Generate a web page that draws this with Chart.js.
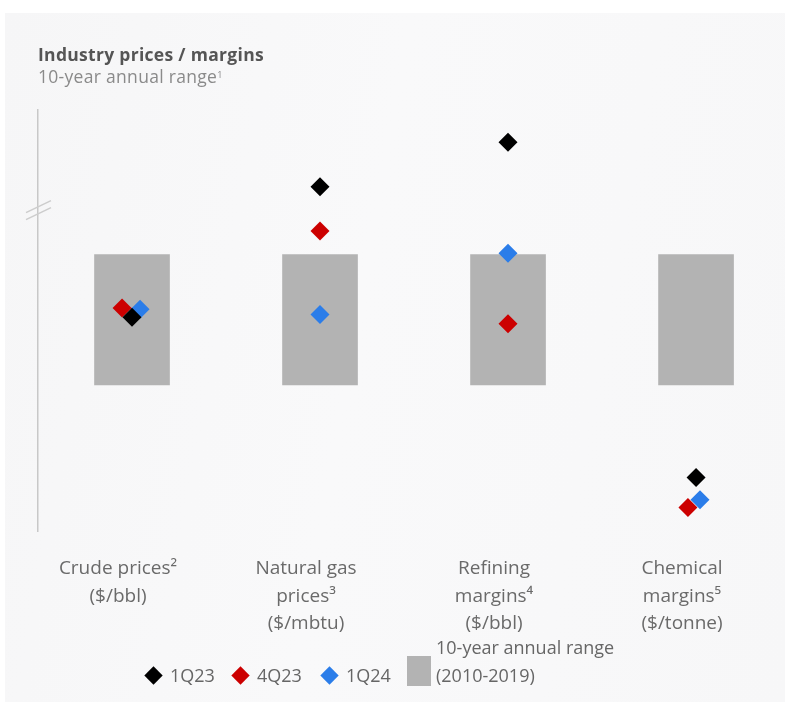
<!DOCTYPE html>
<html>
<head>
<meta charset="utf-8">
<script src="https://cdn.jsdelivr.net/npm/chart.js@4.4.1/dist/chart.umd.min.js"></script>
<style>
  html, body { margin: 0; padding: 0; background: #ffffff; }
  #wrap { position: relative; width: 785px; height: 702px; overflow: hidden; }
  #panel { position: absolute; left: 5px; top: 13px; right: 0; bottom: 0;
           background: linear-gradient(100deg, #f6f6f7 0%, #f9f9fa 45%, #f7f7f8 100%); }
  canvas { position: absolute; left: 0; top: 0; }
  .txt { position: absolute; font-family: "Open Sans", sans-serif; white-space: nowrap; }
  #title { left: 38px; top: 43px; font-size: 17.5px; font-weight: 700; color: #555; line-height: 22px; letter-spacing: 0.3px; }
  #subtitle { left: 38px; top: 65px; font-size: 17.5px; color: #8a8a8a; line-height: 22px; letter-spacing: 0.3px; }
  #subtitle sup { font-size: 9px; vertical-align: top; position: relative; top: -1px; }
  #legend { position: absolute; left: 0; top: 633px; width: 785px; height: 60px;
            font-family: "Open Sans", sans-serif; font-size: 18px; color: #666; }
  .item { position: absolute; top: 0; display: flex; align-items: flex-end; height: 56px; }
  .dia { width: 19px; height: 28px; display: flex; align-items: center; justify-content: center; margin-right: 7px; }
  .dia span { width: 13px; height: 13px; transform: rotate(45deg); display: block; }
  .lbl { line-height: 28px; }
  .box { width: 24px; height: 30px; background: #b3b3b3; margin-right: 5px; margin-bottom: 3px; }
  .two { line-height: 28px; }
</style>
</head>
<body>
<div id="wrap">
  <div id="panel"></div>
  <canvas id="chart" width="785" height="702"></canvas>
  <div id="title" class="txt">Industry prices / margins</div>
  <div id="subtitle" class="txt">10-year annual range<sup>1</sup></div>
  <div id="legend"></div>
</div>
<script>
// Categories shown along the bottom (multi-line labels)
const categories = [
  ['Crude prices²', '($/bbl)'],
  ['Natural gas', 'prices³', '($/mbtu)'],
  ['Refining', 'margins⁴', '($/bbl)'],
  ['Chemical', 'margins⁵', '($/tonne)']
];

// Values are placed relative to each market's 10-year annual range:
// 0 = low end of the range, 100 = high end of the range
const rangeLow  = [0, 0, 0, 0];
const rangeHigh = [100, 100, 100, 100];

const seriesNames = ['1Q23', '4Q23', '1Q24'];
const q1_2023 = [52, 152, 186, -71];
const q4_2023 = [59, 118, 47, -94];
const q1_2024 = [58, 54, 101, -88];

const rangeLabel = ['10-year annual range', '(2010-2019)'];

// ---- styling ----
const seriesColors = ['#000000', '#cc0000', '#2b7de9'];
const rangeColor = '#b3b3b3';
// small sideways nudge (in category units) so overlapping diamonds stay visible
const dodge = [
  [0, 0, 0, 0],
  [-0.053, 0, 0, -0.043],
  [0.043, 0, 0, 0.021]
];
const axisBreakAt = 134;
// left edge of each legend entry (px)
const legendLeft = [144, 231, 320, 407];

const seriesValues = [q1_2023, q4_2023, q1_2024];

const pointDatasets = seriesNames.map((name, s) => ({
  type: 'scatter',
  label: name,
  data: seriesValues[s].map((v, i) => ({ x: i + dodge[s][i], y: v })),
  pointStyle: 'rectRot',
  radius: 9.5,
  hoverRadius: 9.5,
  backgroundColor: seriesColors[s],
  borderWidth: 0,
  order: s + 1
}));

const rangeDataset = {
  type: 'bar',
  label: rangeLabel.join(' '),
  data: categories.map((c, i) => ({ x: i, y: [rangeLow[i], rangeHigh[i]] })),
  backgroundColor: rangeColor,
  borderWidth: 0,
  barThickness: 75,
  order: 10
};

// Broken-axis marker drawn across the vertical axis line
const axisBreak = {
  id: 'axisBreak',
  afterDraw(chart) {
    const { ctx, chartArea, scales: { y } } = chart;
    const py = y.getPixelForValue(axisBreakAt);
    const x = chartArea.left;
    ctx.save();
    ctx.strokeStyle = '#cdcdcd';
    ctx.lineWidth = 1.5;
    [-3.5, 3.5].forEach(d => {
      ctx.beginPath();
      ctx.moveTo(x - 12, py + d + 6);
      ctx.lineTo(x + 13, py + d - 6);
      ctx.stroke();
    });
    ctx.restore();
  }
};

new Chart(document.getElementById('chart'), {
  type: 'bar',
  data: { datasets: [rangeDataset, ...pointDatasets] },
  options: {
    responsive: false,
    animation: false,
    events: [],
    layout: { padding: { left: 38, right: 10, top: 110, bottom: 41 } },
    plugins: { legend: { display: false }, tooltip: { enabled: false }, title: { display: false } },
    scales: {
      x: {
        type: 'linear',
        offset: false,
        min: -0.5,
        max: 3.42,
        grid: { display: false, drawTicks: false, offset: false },
        border: { display: false },
        afterBuildTicks: scale => { scale.ticks = categories.map((c, i) => ({ value: i })); },
        ticks: {
          autoSkip: false,
          maxRotation: 0,
          padding: 24,
          labelOffset: -14,
          color: '#6a6a6a',
          font: { family: 'Open Sans', size: 19, lineHeight: 1.43 },
          callback: v => categories[v]
        }
      },
      y: {
        min: -112.3,
        max: 210.8,
        grid: { display: false, drawTicks: false },
        border: { display: true, color: '#c8c8c8', width: 1.5 },
        ticks: { display: false }
      }
    }
  },
  plugins: [axisBreak]
});

// Legend built from the same series names / colours
const legend = document.getElementById('legend');
seriesNames.forEach((name, s) => {
  const item = document.createElement('div');
  item.className = 'item';
  item.style.left = legendLeft[s] + 'px';
  item.innerHTML = '<div class="dia"><span style="background:' + seriesColors[s] + '"></span></div><div class="lbl">' + name + '</div>';
  legend.appendChild(item);
});
const rangeItem = document.createElement('div');
rangeItem.className = 'item';
rangeItem.style.left = legendLeft[3] + 'px';
rangeItem.innerHTML = '<div class="box"></div><div class="two">' + rangeLabel.join('<br>') + '</div>';
legend.appendChild(rangeItem);
</script>
</body>
</html>
